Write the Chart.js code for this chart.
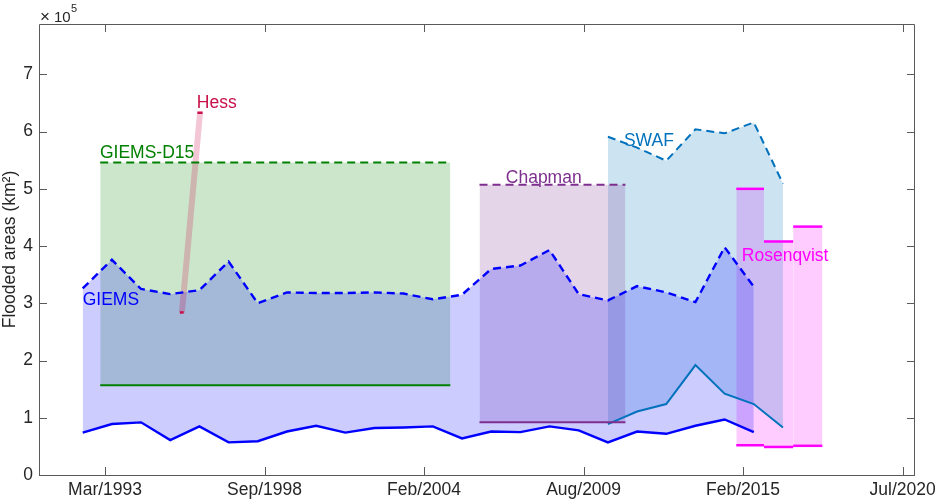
<!DOCTYPE html>
<html>
<head>
<meta charset="utf-8">
<title>Flooded areas</title>
<script src="https://cdn.jsdelivr.net/npm/chart.js@4.4.1/dist/chart.umd.min.js"></script>
<style>
  html, body { margin: 0; padding: 0; background: #fff; }
  #wrap { width: 941px; height: 503px; }
</style>
</head>
<body>
<div id="wrap"><canvas id="floodChart" width="941" height="503"></canvas></div>
<script>

// x axis in decimal years, y in units of 1e5 km2

var tickDates = [1993.167, 1998.633, 2004.1, 2009.567, 2015.033, 2020.5];
var tickLabels = ["Mar/1993", "Sep/1998", "Feb/2004", "Aug/2009", "Feb/2015", "Jul/2020"];
var yTicks = [0, 1, 2, 3, 4, 5, 6, 7];

// GIEMS yearly min / max
var giemsYears = [1992, 1993, 1994, 1995, 1996, 1997, 1998, 1999, 2000, 2001, 2002, 2003,
                  2004, 2005, 2006, 2007, 2008, 2009, 2010, 2011, 2012, 2013, 2014, 2015];
var giemsMax = [3.26, 3.76, 3.25, 3.16, 3.23, 3.73, 3.00, 3.19, 3.18, 3.18, 3.19, 3.17,
                3.07, 3.15, 3.60, 3.66, 3.93, 3.16, 3.05, 3.30, 3.19, 3.02, 3.98, 3.29];
var giemsMin = [0.74, 0.89, 0.92, 0.61, 0.85, 0.57, 0.59, 0.76, 0.86, 0.74, 0.82, 0.83,
                0.85, 0.64, 0.76, 0.75, 0.85, 0.78, 0.57, 0.76, 0.72, 0.86, 0.97, 0.75];

// SWAF yearly min / max
var swafYears = [2010, 2011, 2012, 2013, 2014, 2015, 2016];
var swafMax = [5.91, 5.72, 5.49, 6.04, 5.97, 6.16, 5.09];
var swafMin = [0.89, 1.11, 1.24, 1.92, 1.42, 1.24, 0.83];

// yearly points sit a little before mid-year
var yearShift = 0.4;

// GIEMS-D15 and Chapman: one min / max over a period
var d15Span = [1993.0, 2005.0];
var d15Range = [1.57, 5.46];
var chapmanSpan = [2006.0, 2011.0];
var chapmanRange = [0.92, 5.07];

// Hess: low water (Oct 1995) and high water (May 1996)
var hessDates = [1995.80, 1996.42];
var hessValues = [2.84, 6.33];
var hessLowSpan = [1995.73, 1995.86];
var hessHighSpan = [1996.33, 1996.51];

// Rosenqvist: three yearly mosaics
var rosenStart = [2014.80, 2015.75, 2016.75];
var rosenEnd = [2015.75, 2016.75, 2017.75];
var rosenMax = [5.00, 4.08, 4.34];
var rosenMin = [0.52, 0.49, 0.51];

// text labels (left edge, baseline)
var noteTexts = ["GIEMS", "GIEMS-D15", "Hess", "Chapman", "SWAF", "Rosenqvist"];
var noteX = [1992.40, 1992.99, 1996.31, 2006.90, 2010.95, 2014.99];
var noteY = [2.97, 5.54, 6.41, 5.10, 5.74, 3.74];
var noteColors = ["#0000ff", "#008000", "#c8104a", "#7e2f8e", "#0072bd", "#ff00ff"];

var FONT = "'Liberation Sans', Arial, Helvetica, sans-serif";
var DASH = [8, 5];


function series(xs, ys, shift) {
  return xs.map(function(x, i) { return { x: x + (shift || 0), y: ys[i] }; });
}

function flat(span, v) {
  return [{ x: span[0], y: v }, { x: span[1], y: v }];
}

function line(data, color, width, dashed, fillColor) {
  return {
    data: data,
    borderColor: color,
    borderWidth: width,
    borderDash: dashed ? DASH : [],
    fill: fillColor ? "+1" : false,
    backgroundColor: fillColor || "transparent",
    pointRadius: 0,
    tension: 0
  };
}

var datasets = [
  line(series(giemsYears, giemsMax, yearShift), "#0000ff", 2.4, true, "rgba(0,0,255,0.2)"),
  line(series(giemsYears, giemsMin, yearShift), "#0000ff", 2.4, false),

  line(flat(d15Span, d15Range[1]), "#008000", 2, true, "rgba(0,128,0,0.2)"),
  line(flat(d15Span, d15Range[0]), "#008000", 2, false),

  line(series(hessDates, hessValues), "rgba(204,0,68,0.22)", 6, false),
  line(flat(hessLowSpan, hessValues[0]), "#c8104a", 2.5, false),
  line(flat(hessHighSpan, hessValues[1]), "#c8104a", 2.5, false),

  line(flat(chapmanSpan, chapmanRange[1]), "#7e2f8e", 2, true, "rgba(126,47,142,0.2)"),
  line(flat(chapmanSpan, chapmanRange[0]), "#7e2f8e", 2, false),

  line(series(swafYears, swafMax, yearShift), "#0072bd", 2, true, "rgba(0,114,189,0.2)"),
  line(series(swafYears, swafMin, yearShift), "#0072bd", 2, false)
];

rosenStart.forEach(function(s, i) {
  var span = [s, rosenEnd[i]];
  datasets.push(line(flat(span, rosenMax[i]), "#ff00ff", 2.5, false, "rgba(255,0,255,0.2)"));
  datasets.push(line(flat(span, rosenMin[i]), "#ff00ff", 2.5, false));
});


// box, inward ticks, exponent and text labels
var framePlugin = {
  id: "frame",
  afterDatasetsDraw: function(chart) {
    var ctx = chart.ctx;
    var a = chart.chartArea;
    var xs = chart.scales.x;
    var ys = chart.scales.y;
    var tl = 8;

    ctx.save();

    ctx.font = "17.5px " + FONT;
    ctx.textAlign = "left";
    ctx.textBaseline = "alphabetic";
    noteTexts.forEach(function(t, i) {
      ctx.fillStyle = noteColors[i];
      ctx.fillText(t, xs.getPixelForValue(noteX[i]), ys.getPixelForValue(noteY[i]));
    });

    ctx.strokeStyle = "#5a5a5a";
    ctx.lineWidth = 1;
    ctx.beginPath();
    ctx.rect(Math.round(a.left) + 0.5, Math.round(a.top) + 0.5,
             Math.round(a.right - a.left) - 1, Math.round(a.bottom - a.top));
    tickDates.forEach(function(d) {
      var px = Math.round(xs.getPixelForValue(d)) + 0.5;
      ctx.moveTo(px, a.bottom); ctx.lineTo(px, a.bottom - tl);
      ctx.moveTo(px, a.top); ctx.lineTo(px, a.top + tl);
    });
    yTicks.forEach(function(v) {
      var py = Math.round(ys.getPixelForValue(v)) + 0.5;
      ctx.moveTo(a.left, py); ctx.lineTo(a.left + tl, py);
      ctx.moveTo(a.right, py); ctx.lineTo(a.right - tl, py);
    });
    ctx.stroke();

    // exponent note
    ctx.fillStyle = "#262626";
    ctx.font = "17px " + FONT;
    ctx.fillText("\u00d7", a.left + 1, a.top - 2.5);
    ctx.font = "15px " + FONT;
    ctx.fillText("10", a.left + 15, a.top - 2.5);
    ctx.font = "11px " + FONT;
    ctx.fillText("5", a.left + 32, a.top - 12);

    ctx.restore();
  }
};


new Chart("floodChart", {
  type: "line",
  data: { datasets: datasets },
  options: {
    responsive: false,
    animation: false,
    events: [],
    layout: { padding: { top: 24, right: 23, left: 0, bottom: 0 } },
    plugins: {
      legend: { display: false },
      tooltip: { enabled: false },
      filler: { drawTime: "beforeDatasetsDraw" }
    },
    scales: {
      x: {
        type: "linear",
        min: 1990.902,
        max: 2020.924,
        grid: { display: false, drawTicks: false },
        border: { display: false },
        afterBuildTicks: function(s) {
          s.ticks = tickDates.map(function(v) { return { value: v }; });
        },
        afterFit: function(s) { s.height = 28; },
        ticks: {
          autoSkip: false,
          maxRotation: 0,
          padding: 5,
          color: "#262626",
          font: { family: FONT, size: 17.5 },
          callback: function(v, i) { return tickLabels[i]; }
        }
      },
      y: {
        min: 0,
        max: 7.88,
        grid: { display: false, drawTicks: false },
        border: { display: false },
        afterBuildTicks: function(s) {
          s.ticks = yTicks.map(function(v) { return { value: v }; });
        },
        afterFit: function(s) { s.width = 39; },
        ticks: {
          padding: 6,
          color: "#262626",
          font: { family: FONT, size: 17.5 }
        },
        title: {
          display: true,
          text: "Flooded areas (km\u00b2)",
          color: "#262626",
          padding: { top: 0, bottom: 0 },
          font: { family: FONT, size: 17.5 }
        }
      }
    }
  },
  plugins: [framePlugin]
});

</script>
</body>
</html>
